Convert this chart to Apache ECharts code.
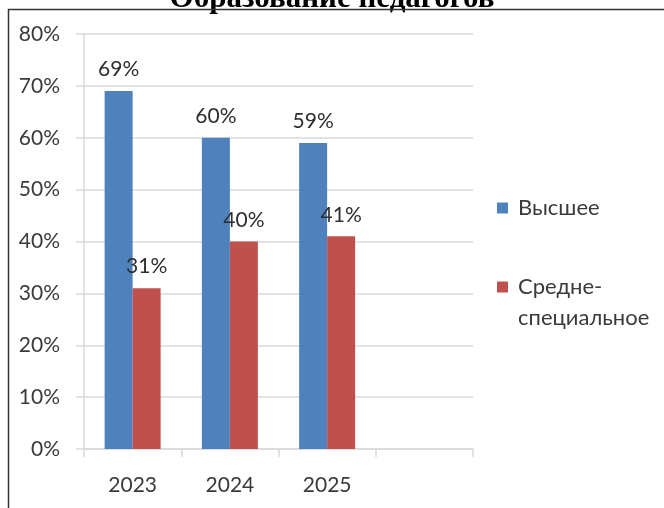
<!DOCTYPE html>
<html>
<head>
<meta charset="utf-8">
<style>
  html, body { margin: 0; padding: 0; background: #fff; }
  #chart { width: 664px; height: 508px; }
</style>
<script src="https://cdn.jsdelivr.net/npm/echarts@6/dist/echarts.min.js"></script>
</head>
<body>
<div id="chart"></div>
<script>
// данные диаграммы
const годы = ["2023", "2024", "2025", ""];
const высшее = [69, 60, 59];
const среднеСпец = [31, 40, 41];
const названияРядов = ["Высшее", "Средне-"];

const шрифт = 'Lato, "Noto Sans", sans-serif';
const цветТекста = "#3a3a3a";
const цветСетки = "#d9d9d9";

const chart = echarts.init(document.getElementById("chart"));

const option = {
  animation: false,
  backgroundColor: "#fff",
  textStyle: { fontFamily: шрифт },
  grid: { left: 84, right: 191, top: 34, bottom: 59 },
  legend: {
    orient: "vertical",
    left: 497,
    top: 197,
    padding: 0,
    itemGap: 57,
    itemWidth: 11,
    itemHeight: 11,
    icon: "rect",
    data: названияРядов,
    textStyle: {
      fontFamily: шрифт,
      fontSize: 22,
      color: цветТекста,
      padding: [0, 0, 0, 5],
    },
  },
  xAxis: {
    type: "category",
    data: годы,
    axisLine: { lineStyle: { color: цветСетки, width: 1.5 } },
    axisTick: { show: true, length: 8, lineStyle: { color: цветСетки, width: 1.5 } },
    axisLabel: { fontSize: 21, color: цветТекста, margin: 26, fontFamily: шрифт },
  },
  yAxis: {
    type: "value",
    min: 0,
    max: 80,
    interval: 10,
    axisLine: { show: true, lineStyle: { color: цветСетки, width: 1.5 } },
    axisTick: { show: true, length: 8, lineStyle: { color: цветСетки, width: 1.5 } },
    splitLine: { lineStyle: { color: цветСетки, width: 1.5 } },
    axisLabel: {
      formatter: "{value}%",
      fontSize: 21,
      color: цветТекста,
      margin: 24,
      fontFamily: шрифт,
    },
  },
  series: [
    {
      name: названияРядов[0],
      type: "bar",
      data: высшее,
      barWidth: 28,
      barGap: "0%",
      itemStyle: { color: "#4f81bd" },
      label: {
        show: true,
        position: "top",
        distance: 11,
        formatter: "{c}%",
        fontSize: 21,
        color: "#2e2e2e",
        fontFamily: шрифт,
      },
    },
    {
      name: названияРядов[1],
      type: "bar",
      data: среднеСпец,
      barWidth: 28,
      barGap: "0%",
      itemStyle: { color: "#c0504d" },
      label: {
        show: true,
        position: "top",
        distance: 11,
        formatter: "{c}%",
        fontSize: 21,
        color: "#2e2e2e",
        fontFamily: шрифт,
      },
    },
  ],
  graphic: [
    {
      type: "text",
      left: 518,
      top: 307,
      style: {
        text: "специальное",
        fontSize: 22,
        fontFamily: шрифт,
        fill: цветТекста,
      },
    },
    {
      type: "text",
      x: 332,
      y: 14,
      style: {
        text: "Образование педагогов",
        fontSize: 31,
        fontWeight: "bold",
        fontFamily: '"Liberation Serif", "DejaVu Serif", serif',
        fill: "#000",
        align: "center",
        verticalAlign: "bottom",
      },
    },
    {
      type: "rect",
      shape: { x: 8.5, y: 9.5, width: 800, height: 800 },
      style: { fill: null, stroke: "#333", lineWidth: 1.5 },
    },
  ],
};

chart.setOption(option);
</script>
</body>
</html>
